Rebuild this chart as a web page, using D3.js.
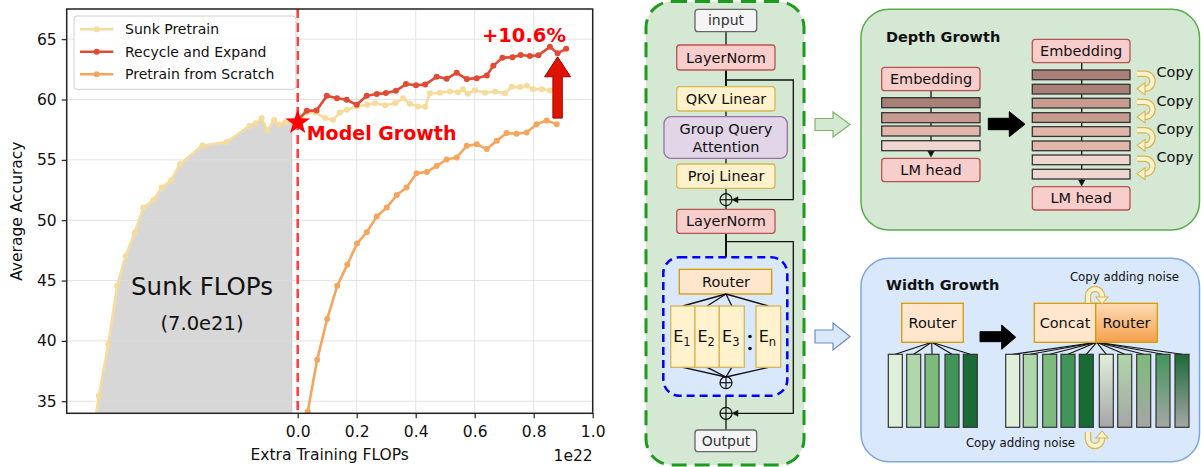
<!DOCTYPE html>
<html>
<head>
<meta charset="utf-8">
<script src="https://cdn.jsdelivr.net/npm/d3@7"></script>
<style>
  html, body { margin: 0; padding: 0; background: #fff; }
  svg { display: block; font-family: "DejaVu Sans", sans-serif; }
</style>
</head>
<body>
<script>
// ---------------- chart data (x in units of 1e22 extra training FLOPs) ----------------
const sunkX = [-0.705, -0.674, -0.642, -0.612, -0.583, -0.552, -0.523, -0.489, -0.461, -0.429, -0.399,
  -0.323, -0.241, -0.164, -0.142, -0.122, -0.103, -0.080, -0.062, -0.043, 0.0,
  0.028, 0.059, 0.093, 0.120, 0.143, 0.167, 0.201, 0.235, 0.262, 0.296, 0.330, 0.357, 0.381,
  0.408, 0.432, 0.448, 0.482, 0.516, 0.543, 0.560, 0.577, 0.601, 0.635, 0.669, 0.703, 0.726,
  0.754, 0.777, 0.798, 0.828, 0.855];
const sunkY = [30.5, 35.44, 39.73, 44.56, 47.04, 49.0, 51.04, 51.66, 52.7, 53.3, 54.64,
  56.18, 56.47, 57.8, 58.03, 58.45, 57.43, 58.3, 57.9, 58.1, 58.1,
  58.9, 58.92, 58.46, 58.32, 58.92, 59.15, 59.42, 59.56, 59.70, 59.52, 59.69, 60.1, 59.64,
  59.42, 59.40, 60.51, 60.56, 60.66, 60.6, 60.85, 60.47, 60.76, 60.56, 60.66, 60.51, 61.05,
  61.03, 61.14, 60.86, 60.86, 60.75];

const recycleX = [0.0, 0.031, 0.064, 0.099, 0.133, 0.166, 0.200, 0.234, 0.268, 0.299, 0.333, 0.367,
  0.401, 0.432, 0.471, 0.505, 0.539, 0.573, 0.607, 0.641, 0.663, 0.694, 0.728, 0.756, 0.787,
  0.816, 0.855, 0.881, 0.910];
const recycleY = [58.3, 59.06, 59.1, 60.31, 60.1, 59.98, 59.56, 60.31, 60.45, 60.53, 60.72, 61.28,
  61.18, 61.24, 61.88, 61.73, 62.21, 61.69, 61.77, 62.0, 62.79, 63.47, 63.5, 63.69, 63.6,
  63.66, 64.37, 63.84, 64.2];

const scratchX = [0.034, 0.066, 0.100, 0.134, 0.168, 0.201, 0.234, 0.268, 0.302, 0.336, 0.369, 0.403,
  0.438, 0.471, 0.505, 0.539, 0.573, 0.607, 0.641, 0.675, 0.708, 0.742, 0.776, 0.810, 0.844, 0.878];
const scratchY = [34.14, 38.43, 41.82, 44.56, 46.3, 48.06, 49.0, 50.3, 51.05, 52.08, 52.71, 53.9,
  54.0, 54.5, 55.03, 55.2, 56.16, 56.3, 55.89, 56.58, 57.22, 57.16, 57.27, 57.96, 58.26, 57.96];

const seriesNames = ["Sunk Pretrain", "Recycle and Expand", "Pretrain from Scratch"];
const seriesColors = ["#f6dc9c", "#e34a33", "#f5a65c"];

const xTicks = [0.0, 0.2, 0.4, 0.6, 0.8, 1.0];
const xTickLabels = ["0.0", "0.2", "0.4", "0.6", "0.8", "1.0"];
const yTicks = [35, 40, 45, 50, 55, 60, 65];

const growthPoint = [0.0, 58.1];
const sunkFillEnd = -0.02;
const gainLabel = "+10.6%";
const gainArrow = { x: 0.881, from: 58.46, to: 63.54 };

// ---------------- chart ----------------
const svg = d3.select("body").append("svg").attr("width", 1201).attr("height", 467);

const x = d3.scaleLinear().domain([-0.783, 1.0]).range([66.7, 592.7]);
const y = d3.scaleLinear().domain([34.0, 67.5]).range([413.3, 9]);
const [L, R] = x.range(), [B, T] = y.range();

const defs = svg.append("defs");
defs.append("clipPath").attr("id", "plotClip").append("rect")
  .attr("x", L).attr("y", T).attr("width", R - L).attr("height", B - T);
defs.append("clipPath").attr("id", "sunkClip").append("rect")
  .attr("x", L).attr("y", T).attr("width", x(sunkFillEnd) - L).attr("height", B - T);

const chart = svg.append("g");
const plot = chart.append("g").attr("clip-path", "url(#plotClip)");

const zip = (xs, ys) => xs.map((v, i) => [v, ys[i]]);
const sunk = zip(sunkX, sunkY), recycle = zip(recycleX, recycleY), scratch = zip(scratchX, scratchY);

// shaded sunk-cost region under the pretraining curve
plot.append("g").attr("clip-path", "url(#sunkClip)").append("path")
  .datum(sunk.filter(d => d[0] <= 0))
  .attr("d", d3.area().x(d => x(d[0])).y0(B).y1(d => y(d[1])))
  .attr("fill", "#d7d7d7");
plot.append("line")
  .attr("x1", x(sunkFillEnd)).attr("x2", x(sunkFillEnd))
  .attr("y1", y(58.1)).attr("y2", B)
  .attr("stroke", "#c9c9c9").attr("stroke-width", 1);

// grid
plot.selectAll(".gx").data(xTicks).join("line")
  .attr("x1", d => x(d)).attr("x2", d => x(d)).attr("y1", T).attr("y2", B)
  .attr("stroke", "#dcdcdc").attr("stroke-opacity", 0.8).attr("stroke-width", 1);
plot.selectAll(".gy").data(yTicks).join("line")
  .attr("x1", L).attr("x2", R).attr("y1", d => y(d)).attr("y2", d => y(d))
  .attr("stroke", "#dcdcdc").attr("stroke-opacity", 0.8).attr("stroke-width", 1);

// series
const line = d3.line().x(d => x(d[0])).y(d => y(d[1]));
[sunk, recycle, scratch].forEach((data, i) => {
  const g = plot.append("g");
  g.append("path").datum(data).attr("d", line)
    .attr("fill", "none").attr("stroke", seriesColors[i]).attr("stroke-width", 2.6)
    .attr("stroke-linejoin", "round");
  g.selectAll("circle").data(data).join("circle")
    .attr("cx", d => x(d[0])).attr("cy", d => y(d[1])).attr("r", 3)
    .attr("fill", seriesColors[i]);
});

// growth marker line
plot.append("line")
  .attr("x1", x(0)).attr("x2", x(0)).attr("y1", T).attr("y2", B)
  .attr("stroke", "#ff4040").attr("stroke-width", 2.6).attr("stroke-dasharray", "9,5");

// star at the growth point
const starPts = d3.range(10).map(k => {
  const rad = k % 2 === 0 ? 13 : 5.2;
  const a = -Math.PI / 2 + k * Math.PI / 5;
  return [x(growthPoint[0]) + rad * Math.cos(a), y(growthPoint[1]) + rad * Math.sin(a)];
});
chart.append("polygon").attr("points", starPts.map(p => p.join(",")).join(" ")).attr("fill", "#ff0000");

chart.append("text").attr("x", x(0) + 9).attr("y", 140)
  .attr("font-size", 19).attr("font-weight", "bold").attr("fill", "#ff0000").text("Model Growth");

// gain arrow and label
{
  const ax = x(gainArrow.x), y0 = y(gainArrow.from), y1 = y(gainArrow.to);
  const hw = 4.7, HW = 13, HL = 20;
  const pts = [[ax - hw, y0], [ax - hw, y1 + HL], [ax - HW, y1 + HL], [ax, y1],
               [ax + HW, y1 + HL], [ax + hw, y1 + HL], [ax + hw, y0]];
  chart.append("polygon").attr("points", pts.map(p => p.join(",")).join(" "))
    .attr("fill", "#dd1500").attr("stroke", "#a50000").attr("stroke-width", 1);
}
chart.append("text").attr("x", x(0.767)).attr("y", 42).attr("text-anchor", "middle")
  .attr("font-size", 19.5).attr("font-weight", "bold").attr("fill", "#ff0000").text(gainLabel);

// sunk label
chart.append("text").attr("x", 202).attr("y", 295).attr("text-anchor", "middle")
  .attr("font-size", 24.5).attr("fill", "#111").text("Sunk FLOPs");
chart.append("text").attr("x", 202).attr("y", 330).attr("text-anchor", "middle")
  .attr("font-size", 19.5).attr("fill", "#111").text("(7.0e21)");

// axes
const yAxis = chart.append("g").attr("transform", `translate(${L},0)`)
  .call(d3.axisLeft(y).tickValues(yTicks).tickSize(5).tickPadding(5));
const xAxis = chart.append("g").attr("transform", `translate(0,${B})`)
  .call(d3.axisBottom(x).tickValues(xTicks).tickFormat((d, i) => xTickLabels[i]).tickSize(5).tickPadding(8));
[yAxis, xAxis].forEach(a => {
  a.select(".domain").remove();
  a.selectAll(".tick line").attr("stroke", "#222").attr("stroke-width", 1.2);
  a.selectAll(".tick text").attr("font-size", 15.5).attr("fill", "#111")
    .attr("font-family", "DejaVu Sans");
});
chart.append("rect").attr("x", L).attr("y", T).attr("width", R - L).attr("height", B - T)
  .attr("fill", "none").attr("stroke", "#222").attr("stroke-width", 1.5);

chart.append("text").attr("transform", `translate(22,${(T + B) / 2}) rotate(-90)`)
  .attr("text-anchor", "middle").attr("font-size", 15.5).attr("fill", "#111").text("Average Accuracy");
chart.append("text").attr("x", (L + R) / 2).attr("y", 460).attr("text-anchor", "middle")
  .attr("font-size", 15.5).attr("fill", "#111").text("Extra Training FLOPs");
chart.append("text").attr("x", R).attr("y", 461).attr("text-anchor", "end")
  .attr("font-size", 15.5).attr("fill", "#111").text("1e22");

// legend
{
  const lg = chart.append("g");
  lg.append("rect").attr("x", 74).attr("y", 16).attr("width", 222).attr("height", 73.3).attr("rx", 3)
    .attr("fill", "#fff").attr("fill-opacity", 0.85).attr("stroke", "#d0d0d0");
  seriesNames.forEach((name, i) => {
    const ry = 29.3 + i * 22.5;
    lg.append("line").attr("x1", 80).attr("x2", 113.3).attr("y1", ry).attr("y2", ry)
      .attr("stroke", seriesColors[i]).attr("stroke-width", 2.6);
    lg.append("circle").attr("cx", 96.7).attr("cy", ry).attr("r", 3).attr("fill", seriesColors[i]);
    lg.append("text").attr("x", 125).attr("y", ry + 5).attr("font-size", 14).attr("fill", "#111").text(name);
  });
}

// ---------------- architecture diagram ----------------
const dg = svg.append("g").attr("font-family", "DejaVu Sans");

function box(x0, y0, x1, y1, fill, stroke, r = 3, sw = 1.3) {
  return dg.append("rect").attr("x", x0).attr("y", y0).attr("width", x1 - x0).attr("height", y1 - y0)
    .attr("rx", r).attr("fill", fill).attr("stroke", stroke).attr("stroke-width", sw);
}
function label(cx, cy, txt, size = 14.5, color = "#111", weight = "normal", anchor = "middle") {
  return dg.append("text").attr("x", cx).attr("y", cy).attr("dy", "0.35em").attr("text-anchor", anchor)
    .attr("font-size", size).attr("font-weight", weight).attr("fill", color).text(txt);
}
function seg(pts, sw = 1.3, color = "#111") {
  return dg.append("path").attr("d", d3.line()(pts)).attr("fill", "none")
    .attr("stroke", color).attr("stroke-width", sw);
}
function poly(pts, fill, stroke, sw = 1.2) {
  return dg.append("polygon").attr("points", pts.map(p => p.join(",")).join(" "))
    .attr("fill", fill).attr("stroke", stroke).attr("stroke-width", sw).attr("stroke-linejoin", "miter");
}
function plus(cx, cy, r = 6) {
  dg.append("circle").attr("cx", cx).attr("cy", cy).attr("r", r).attr("fill", "none")
    .attr("stroke", "#111").attr("stroke-width", 1.2);
  seg([[cx - r, cy], [cx + r, cy]], 1.2);
  seg([[cx, cy - r], [cx, cy + r]], 1.2);
}

// MoE transformer block
box(646, 1.5, 804, 465, "#d5e8d4", "#1e9a1e", 26, 3).attr("stroke-dasharray", "15,8");
const cx0 = 726;
seg([[cx0, 31.7], [cx0, 45]]);
seg([[cx0, 70], [cx0, 86.7]], 2);
seg([[cx0, 111], [cx0, 116.7]]);
seg([[cx0, 158.3], [cx0, 164]]);
seg([[cx0, 188.3], [cx0, 193.7]]);
seg([[cx0, 205.7], [cx0, 209.3]]);
seg([[cx0, 233.3], [cx0, 269.3]], 2);
seg([[cx0, 388.7], [cx0, 407.3]]);
seg([[cx0, 419.3], [cx0, 430]]);
// residual paths
seg([[cx0, 80], [793.3, 80], [793.3, 199.7], [737, 199.7]]);
poly([[732, 199.7], [738, 196.7], [738, 202.7]], "#111", "#111", 0.5);
seg([[cx0, 241.7], [793.3, 241.7], [793.3, 413.3], [737, 413.3]]);
poly([[732, 413.3], [738, 410.3], [738, 416.3]], "#111", "#111", 0.5);

box(695, 9.3, 756.7, 31.7, "#f5f5f5", "#666");
label(cx0, 20.5, "input", 14, "#333");
box(676.7, 45, 775, 70, "#f8cecc", "#b85450");
label(cx0, 57.5, "LayerNorm");
box(676.7, 86.7, 775, 111, "#fff2cc", "#d6b656");
label(cx0, 98.8, "QKV Linear");
box(664, 116.7, 787.3, 158.3, "#e1d5e7", "#9673a6", 7);
label(cx0, 129, "Group Query");
label(cx0, 147, "Attention");
box(676.7, 164, 775, 188.3, "#fff2cc", "#d6b656");
label(cx0, 176.2, "Proj Linear");
plus(cx0, 199.7);
box(676.7, 209.3, 775, 233.3, "#f8cecc", "#b85450");
label(cx0, 221.3, "LayerNorm");

// expert group
box(663.3, 257.3, 787.3, 395.7, "#dae8fc", "#0000ff", 16, 2.5).attr("stroke-dasharray", "8,5");
box(679.3, 269.3, 771.7, 294, "#ffe6cc", "#d79b00", 0);
label(cx0, 281.6, "Router");
const experts = [[670.7, 695, "1"], [695, 719.3, "2"], [719.3, 744.3, "3"], [756, 780.7, "n"]];
experts.forEach(([a, b]) => {
  seg([[cx0, 294], [(a + b) / 2, 306]]);
  seg([[(a + b) / 2, 367.3], [cx0, 377]]);
});
experts.forEach(([a, b, s]) => {
  box(a, 306, b, 367.3, "#fff2cc", "#d6b656", 0);
  const t = dg.append("text").attr("x", (a + b) / 2 - 1).attr("y", 342).attr("text-anchor", "middle")
    .attr("font-size", 16).attr("fill", "#111");
  t.append("tspan").text("E");
  t.append("tspan").attr("font-size", 11.5).attr("dy", 4).text(s);
});
dg.append("circle").attr("cx", 750).attr("cy", 336.5).attr("r", 1.8).attr("fill", "#111");
dg.append("circle").attr("cx", 750).attr("cy", 348.5).attr("r", 1.8).attr("fill", "#111");
plus(cx0, 382.7);
plus(cx0, 413.3);
box(695, 430, 756.7, 451.7, "#f5f5f5", "#666");
label(cx0, 441, "Output", 14, "#333");

// hollow arrows between panels
poly([[815, 118.5], [833, 118.5], [833, 112], [850, 124.5], [833, 137], [833, 130.5], [815, 130.5]],
  "#d5e8d4", "#82b366");
poly([[815, 330], [833, 330], [833, 323], [850, 336.5], [833, 350], [833, 343], [815, 343]],
  "#dae8fc", "#6c8ebf");

// curved copy arrow (yellow band with head)
function curlArrow(pathD, head) {
  dg.append("path").attr("d", pathD).attr("fill", "none").attr("stroke", "#d6b656").attr("stroke-width", 6.5);
  dg.append("path").attr("d", pathD).attr("fill", "none").attr("stroke", "#fff2cc").attr("stroke-width", 4);
  poly(head, "#fff2cc", "#d6b656", 1.1);
}

// depth growth panel
box(861, 9.3, 1199.5, 230, "#d5e8d4", "#5aab4c", 28, 1.5);
label(886, 36.5, "Depth Growth", 14.5, "#111", "bold", "start");
const layerColors = ["#a88078", "#c89b91", "#e2b6aa", "#f0d6d0"];
// left (original) stack
seg([[931, 90.7], [931, 152]]);
poly([[927.8, 151], [934.2, 151], [931, 157]], "#111", "#111", 0.5);
box(881.7, 67.3, 980, 90.7, "#f8cecc", "#b85450");
label(931, 79, "Embedding");
const leftBars = [97.7, 112.7, 126, 140.7];
leftBars.forEach((t, i) => box(881.7, t, 980, t + 10, layerColors[i], "#333", 0, 1.3));
box(881.7, 158.3, 980, 181.7, "#f8cecc", "#b85450");
label(931, 170, "LM head");
poly([[988.3, 118.3], [1009.3, 118.3], [1009.3, 111.7], [1025, 124.2], [1009.3, 136.7], [1009.3, 129.7], [988.3, 129.7]],
  "#000", "#000", 1);
// right (grown) stack
seg([[1081.7, 62.7], [1081.7, 180]]);
poly([[1078.5, 180], [1084.9, 180], [1081.7, 186]], "#111", "#111", 0.5);
box(1032.3, 39.3, 1130, 62.7, "#f8cecc", "#b85450");
label(1081.2, 51, "Embedding");
const rightBars = [70, 84.3, 98.3, 112.7, 126.7, 141, 155, 169.3];
rightBars.forEach((t, i) => box(1032.3, t, 1130, t + 9.7, layerColors[Math.floor(i / 2)], "#333", 0, 1.3));
box(1032.3, 186.7, 1130, 210, "#f8cecc", "#b85450");
label(1081.2, 198.3, "LM head");
[81.7, 110, 138.3, 166.7].forEach(cy => {
  curlArrow(`M1137,${cy - 8} H1145 A7.5,7.5 0 0 1 1145,${cy + 7}`,
    [[1145, cy + 1], [1145, cy + 13], [1137, cy + 7]]);
  dg.append("text").attr("x", 1156.5).attr("y", cy - 4.5).attr("font-size", 14.5).attr("fill", "#111").text("Copy");
});

// width growth panel
box(861, 258.3, 1199.5, 461.7, "#dae8fc", "#7ea6e0", 28, 1.5);
label(886, 284.5, "Width Growth", 14.5, "#111", "bold", "start");
const expertColors = ["#e0efda", "#b0d7ab", "#7cbb7b", "#419559", "#1a6a35"];
const leftExperts = [888.3, 906.7, 925, 945, 963.3];
leftExperts.forEach(a => seg([[931.7, 342.3], [a + 7, 354.3]], 1.1));
box(901.7, 303.3, 963.3, 342.3, "#ffe6cc", "#d79b00", 0);
label(932.5, 322.8, "Router", 14.5);
leftExperts.forEach((a, i) => box(a, 354.3, a + 14, 427.3, expertColors[i], "#333", 0, 1.2));
poly([[980, 331.7], [1001.7, 331.7], [1001.7, 325], [1015.7, 337.2], [1001.7, 349.3], [1001.7, 341.7], [980, 341.7]],
  "#000", "#000", 1);

const rightExperts = [1005.7, 1023.3, 1042.7, 1061, 1079.3, 1099.3, 1117.7, 1136.7, 1156, 1175];
expertColors.forEach((c, i) => {
  const gr = defs.append("linearGradient").attr("id", "noise" + i).attr("x1", 0).attr("y1", 0).attr("x2", 0).attr("y2", 1);
  gr.append("stop").attr("offset", "0%").attr("stop-color", c);
  gr.append("stop").attr("offset", "100%").attr("stop-color", "#a6a6a6");
});
const orangeGrad = defs.append("linearGradient").attr("id", "routerGrad").attr("x1", 0).attr("y1", 0).attr("x2", 0).attr("y2", 1);
orangeGrad.append("stop").attr("offset", "0%").attr("stop-color", "#fedcb6");
orangeGrad.append("stop").attr("offset", "100%").attr("stop-color", "#f4a04c");

rightExperts.forEach(a => seg([[1096.7, 342.3], [a + 7, 354.3]], 1.1));
box(1034.3, 303.3, 1095.7, 342.3, "#ffe6cc", "#d79b00", 0);
box(1095.7, 303.3, 1157.3, 342.3, "url(#routerGrad)", "#d79b00", 0);
label(1065, 322.8, "Concat", 14.5);
label(1126.5, 322.8, "Router", 14.5);
rightExperts.forEach((a, i) => {
  const fill = i < 5 ? expertColors[i] : `url(#noise${i - 5})`;
  box(a, 354.3, a + 14, 427.3, fill, "#333", 0, 1.2);
});

dg.append("text").attr("x", 1124.5).attr("y", 280.5).attr("text-anchor", "middle")
  .attr("font-size", 11.8).attr("fill", "#111").text("Copy adding noise");
curlArrow("M1088,303 V296 A7,7 0 0 1 1102,296 V297", [[1096, 297], [1108, 297], [1102, 304]]);
dg.append("text").attr("x", 1020.5).attr("y", 446.5).attr("text-anchor", "middle")
  .attr("font-size", 11.8).attr("fill", "#111").text("Copy adding noise");
curlArrow("M1088,432 V439 A7,7 0 0 0 1102,439 V438", [[1096, 438], [1108, 438], [1102, 431]]);
</script>
</body>
</html>
